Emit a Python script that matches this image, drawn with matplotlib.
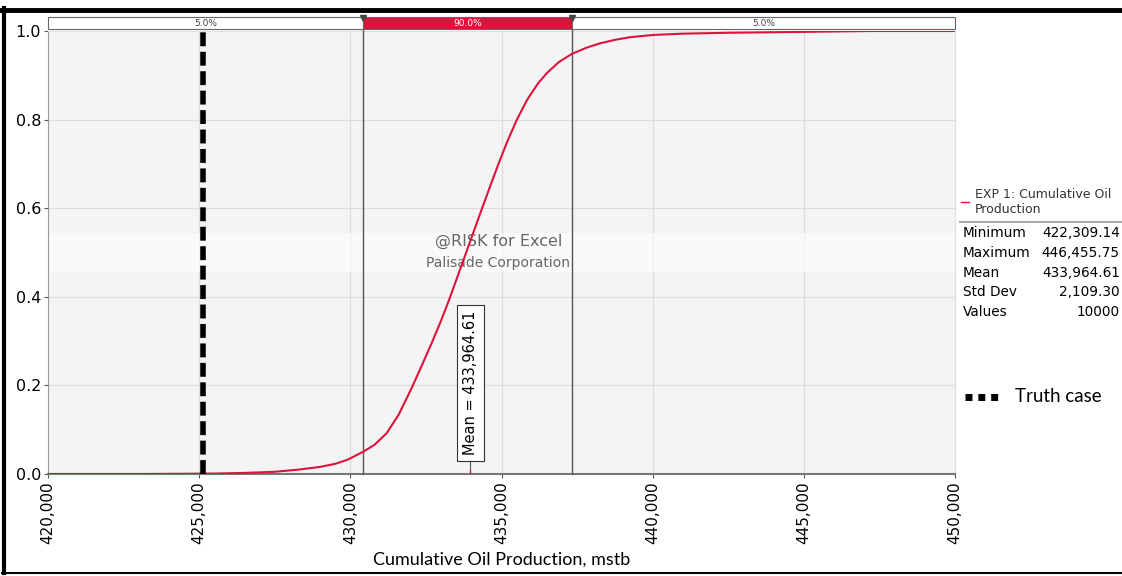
import matplotlib.pyplot as plt
from matplotlib.lines import Line2D
from matplotlib.patches import Rectangle

# cumulative distribution of the simulated output
prod = [420000, 423000, 424500, 425500, 426500, 427500, 428300, 429000, 429500,
        429900, 430420, 430800, 431200, 431600, 432000, 432300, 432700, 433000,
        433260, 433700, 434000, 434290, 434600, 434900, 435200, 435510, 435850,
        436200, 436500, 436900, 437320, 437800, 438250, 438750, 439250, 440000,
        441000, 442500, 445000, 447200, 450000]
cum_prob = [0.0, 0.0, 0.0005, 0.001, 0.0025, 0.005, 0.010, 0.016, 0.023,
            0.032, 0.050, 0.066, 0.092, 0.134, 0.190, 0.235, 0.297, 0.346,
            0.392, 0.475, 0.532, 0.587, 0.645, 0.700, 0.752, 0.800, 0.845,
            0.881, 0.905, 0.930, 0.948, 0.962, 0.972, 0.980, 0.986, 0.991,
            0.994, 0.996, 0.998, 1.0, 1.0]

p5, p95 = 430420, 437320
mean_val = 433964.61
truth = 425130
band_labels = ["5.0%", "90.0%", "5.0%"]

stat_names = ["Minimum", "Maximum", "Mean", "Std Dev", "Values"]
stat_values = ["422,309.14", "446,455.75", "433,964.61", "2,109.30", "10000"]

xticks = [420000, 425000, 430000, 435000, 440000, 445000, 450000]
yticks = [0.0, 0.2, 0.4, 0.6, 0.8, 1.0]

red = "#dc143c"
fig = plt.figure(figsize=(11.22, 5.76), dpi=100)
ax = fig.add_axes([48/1122, 102/576, 907/1122, 443/576])
ax.set_facecolor("#f4f4f4")
ax.set_xlim(420000, 450000)
ax.set_ylim(0, 1.0)

ax.set_xticks(xticks)
ax.set_xticklabels([f"{t:,}" for t in xticks], rotation=90, fontsize=11)
ax.set_yticks(yticks)
ax.set_yticklabels([f"{t:.1f}" for t in yticks], fontsize=11.5)
ax.tick_params(length=3, color="#555555", pad=2)
ax.grid(True, color="#dcdcdc", lw=0.8)
ax.set_axisbelow(True)
for s in ["top", "right"]:
    ax.spines[s].set_color("#e0e0e0")
ax.spines["left"].set_color("#999999")
ax.spines["bottom"].set_color("#777777")
ax.spines["bottom"].set_linewidth(1.5)

# watermark strip
ax.axhspan(0.456, 0.544, color="white", alpha=0.6, lw=0, zorder=1)
ax.text(434900, 0.525, "@RISK for Excel", ha="center", va="center",
        fontsize=11.5, color="#666666", zorder=2)
ax.text(434900, 0.476, "Palisade Corporation", ha="center", va="center",
        fontsize=10, color="#666666", zorder=2)

# percentile lines and delimiter markers
for p in (p5, p95):
    ax.plot([p, p], [0, 1.032], color="#555555", lw=1, clip_on=False, zorder=3)
    ax.plot(p, 1.03, marker="v", color="#444444", ms=4, clip_on=False, zorder=5)

# percentile band above the plot
edges = [420000, p5, p95, 450000]
for i in range(3):
    face = red if i == 1 else "white"
    ax.add_patch(Rectangle((edges[i], 1.0045), edges[i+1] - edges[i], 0.027,
                           facecolor=face, edgecolor="#666666", lw=0.8,
                           clip_on=False, zorder=4))
    ax.text((edges[i] + edges[i+1]) / 2, 1.018, band_labels[i], ha="center",
            va="center", fontsize=6.5, color="white" if i == 1 else "#444444",
            clip_on=False, zorder=5)

# cdf curve
ax.plot(prod, cum_prob, color=red, lw=1.5, zorder=4)

# truth case
ax.plot([truth, truth], [0, 1.008], color="black", lw=4,
        dashes=(2.5, 1.0), clip_on=False, zorder=6)

# mean marker
ax.plot([mean_val, mean_val], [0, 0.03], color="#555555", lw=0.8, zorder=5)
ax.plot(mean_val, 0.005, marker="|", color=red, ms=3, zorder=5)
ax.text(mean_val, 0.205, "Mean = 433,964.61", rotation=90, ha="center",
        va="center", fontsize=10.5,
        bbox=dict(boxstyle="square,pad=0.4", fc="white", ec="#333333", lw=0.8),
        zorder=6)

ax.set_xlabel("Cumulative Oil Production, mstb", family="Lato", fontsize=13,
              labelpad=6)

# side legend and statistics
fig.add_artist(Line2D([961/1122, 969/1122], [1 - 202/576] * 2, color=red, lw=1))
fig.text(975/1122, 1 - 194/576, "EXP 1: Cumulative Oil", fontsize=9,
         color="#333333", va="center")
fig.text(975/1122, 1 - 210/576, "Production", fontsize=9,
         color="#333333", va="center")
fig.add_artist(Line2D([960/1122, 1], [1 - 222/576] * 2, color="#aaaaaa", lw=1.5))
for i, (n, v) in enumerate(zip(stat_names, stat_values)):
    y = 1 - (233 + i * 19.8) / 576
    fig.text(963/1122, y, n, fontsize=9.8, va="center")
    fig.text(1120/1122, y, v, fontsize=9.8, va="center", ha="right")

fig.add_artist(Line2D([965/1122, 998/1122], [1 - 397/576] * 2, color="black",
                      lw=5, dashes=(1.0, 0.85)))
fig.text(1015/1122, 1 - 397/576, "Truth case", family="Lato", fontsize=13.5,
         va="center")

# frame
fig.add_artist(Line2D([0, 1], [1 - 9.5/576] * 2, color="black", lw=3.5))
fig.add_artist(Line2D([3.5/1122] * 2, [1 - 8/576, 3/576], color="black", lw=3))
fig.add_artist(Line2D([2/1122, 1], [3/576] * 2, color="black", lw=1.5))

fig.savefig("out.png", dpi=100)
